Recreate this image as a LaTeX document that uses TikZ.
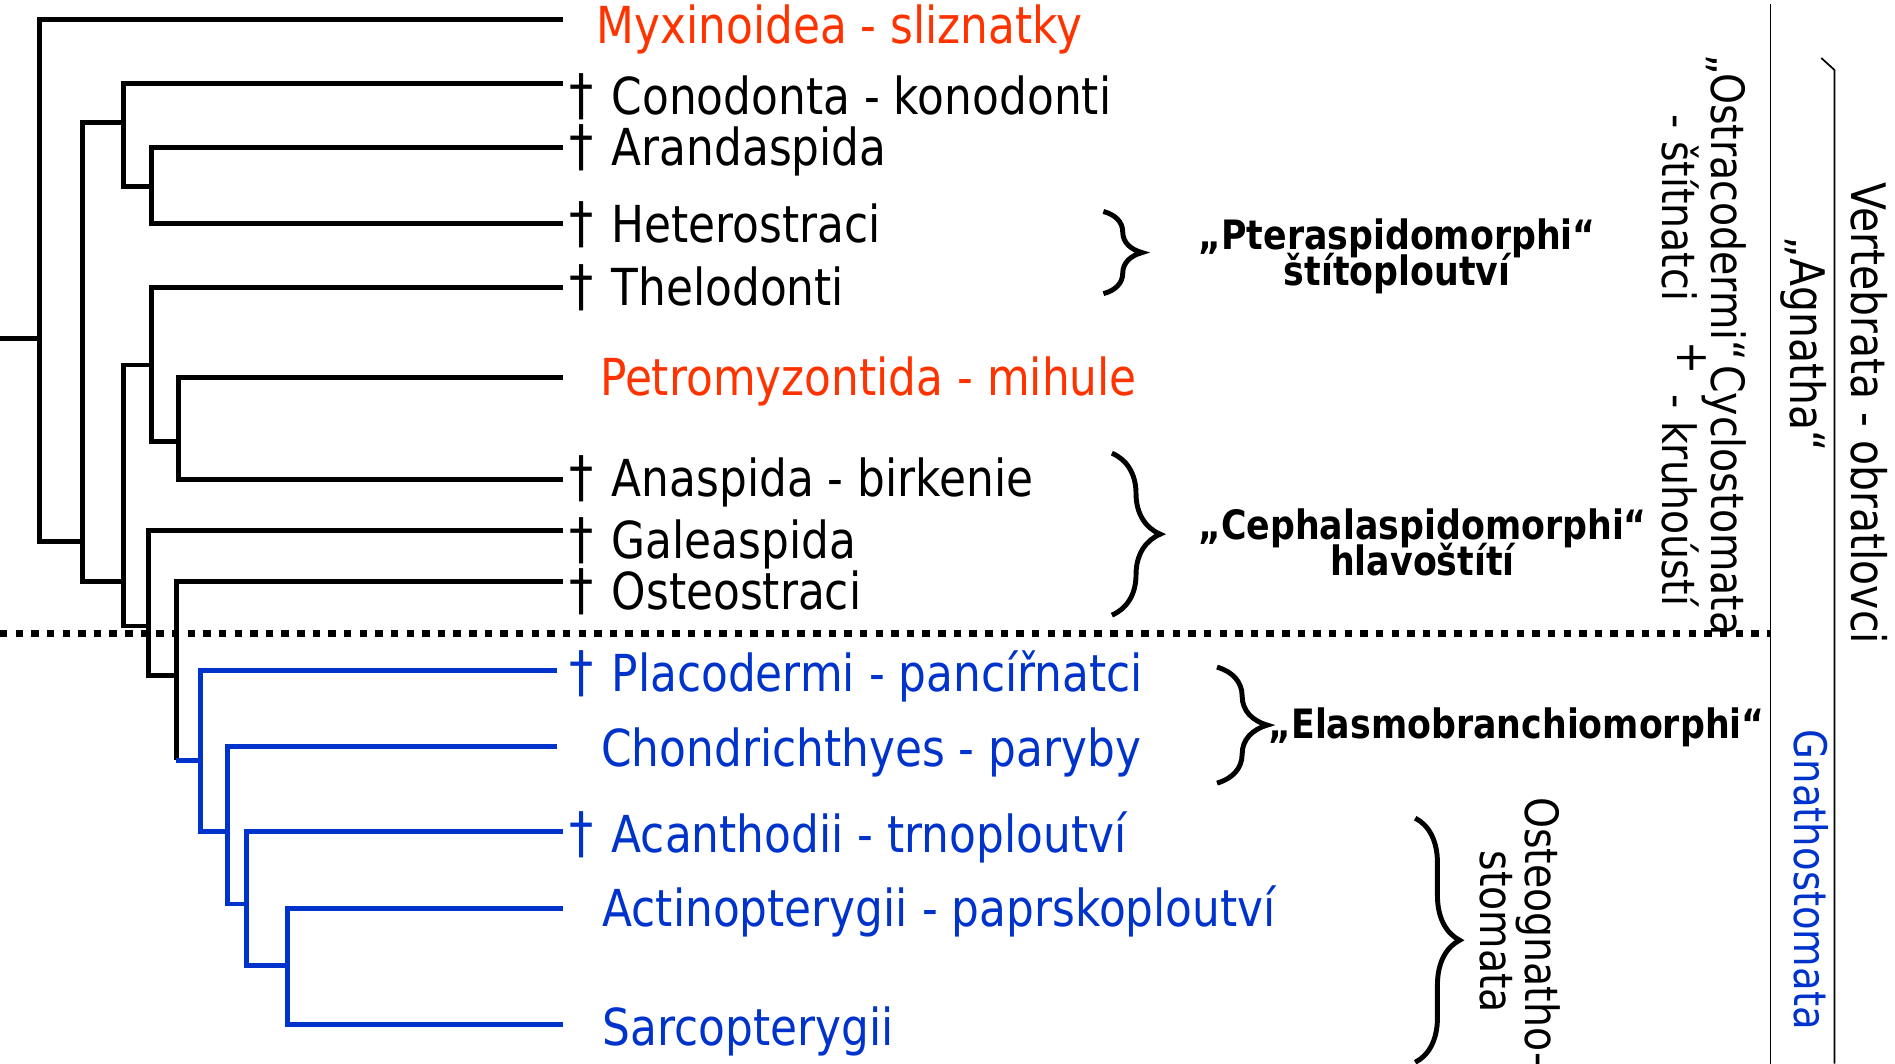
\documentclass[tikz,border=0pt]{standalone}
\usepackage{fontspec}
\setmainfont{DejaVu Sans}[FakeStretch=0.86]
\usetikzlibrary{decorations.pathreplacing}

\definecolor{hagred}{RGB}{255,51,0}
\definecolor{jawblue}{RGB}{0,51,204}
\newcommand{\extinct}{\smash{\fontsize{16.5}{17}\selectfont †}\hspace{5.2pt}}
\newcommand{\tightlines}{\lineskiplimit=-100pt\relax}

\tikzset{
  branch/.style={line width=1.45pt},
  taxon/.style={anchor=base west, inner sep=0pt, font=\fontsize{15}{18}\selectfont},
  grouplabel/.style={align=center, inner sep=0pt,
    font=\bfseries\fontsize{11.9}{10.7}\selectfont\tightlines},
  sidelabel/.style={rotate=-90, align=center, inner sep=0pt,
    font=\fontsize{13.5}{14.6}\selectfont\tightlines},
  clade brace/.style={decorate, decoration={brace, amplitude=#1}, line width=1.45pt},
  clade brace/.default=0.4cm,
}

\begin{document}
\begin{tikzpicture}[x=0.0125cm, y=-0.0125cm]
  \useasboundingbox (0,0) rectangle (1568,880);

  % branching points
  \coordinate (stem) at (0,280);
  \coordinate (nR) at (33,280);
  \coordinate (nA) at (68,448);
  \coordinate (nB) at (102,101);
  \coordinate (nC) at (125,154);
  \coordinate (nD) at (102,481);
  \coordinate (nE) at (125,302);
  \coordinate (nF) at (148,365);
  \coordinate (nG) at (123,518);
  \coordinate (nH) at (146,559);
  \coordinate (nI) at (166,629);
  \coordinate (nJ) at (188,688);
  \coordinate (nK) at (204,748);
  \coordinate (nL) at (238,799);

  % branch tips
  \foreach \n/\x/\y in {Myx/466/16, Cono/466/69, Aran/466/122, Het/466/185,
      Thel/466/238, Petr/466/312, Anas/466/397, Gale/466/439, Oste/466/481,
      Plac/461/555, Chon/461/618, Acan/466/688, Acti/466/752, Sarc/466/848}
    \coordinate (t\n) at (\x,\y);

  % tree
  \draw[branch] (stem) -- (nR);
  \foreach \a/\p/\b in {tMyx/nR/nA, nB/nA/nD, tCono/nB/nC, tAran/nC/tHet,
      nE/nD/nG, tThel/nE/nF, tPetr/nF/tAnas, tGale/nG/nH}
    \draw[branch] (\a) -| (\p) |- (\b);
  \draw[branch] (tOste) -| (nH) -- (nH |- nI);
  \draw[branch, jawblue] (nH |- nI) -- (nI);
  \foreach \a/\p/\b in {tPlac/nI/nJ, tChon/nJ/nK, tAcan/nK/nL, tActi/nL/tSarc}
    \draw[branch, jawblue] (\a) -| (\p) |- (\b);

  % jawless / jawed boundary
  \draw[line width=1.95pt, dash pattern=on 2.2pt off 2.4pt] (0,524) -- (1465,524);

  % taxa
  \node[taxon, text=hagred] (lMyx) at (493,36) {Myxinoidea - sliznatky};
  \foreach \n/\y/\lab in {Cono/95/Conodonta - konodonti, Aran/137/Arandaspida,
      Het/201/Heterostraci, Thel/253/Thelodonti, Anas/411/Anaspida - birkenie,
      Gale/462/Galeaspida, Oste/504/Osteostraci}
    \node[taxon] (l\n) at (471,\y) {\extinct\lab};
  \node[taxon, text=hagred] (lPetr) at (496,327) {Petromyzontida - mihule};
  \node[taxon, text=jawblue] (lPlac) at (471,572) {\extinct Placodermi - pancířnatci};
  \node[taxon, text=jawblue] (lChon) at (497,634) {Chondrichthyes - paryby};
  \node[taxon, text=jawblue] (lAcan) at (471,705) {\extinct Acanthodii - trnoploutví};
  \node[taxon, text=jawblue] (lActi) at (498,767) {Actinopterygii - paprskoploutví};
  \node[taxon, text=jawblue] (lSarc) at (498,865) {Sarcopterygii};

  % groups
  \draw[clade brace=0.4cm] (913,175) -- (913,243);
  \node[grouplabel] (pter) at (1156,212) {„Pteraspidomorphi“\\štítoploutví};
  \draw[clade brace=0.5cm] (920,375) -- (920,509);
  \node[grouplabel] (ceph) at (1177,449) {„Cephalaspidomorphi“\\hlavoštítí};
  \draw[clade brace=0.52cm] (1007,552) -- (1007,648);
  \node[grouplabel, anchor=base west] (elas) at (1049,611) {„Elasmobranchiomorphi“};
  \draw[clade brace=0.46cm] (1171,677) -- (1171,879);
  \node[sidelabel, font=\fontsize{13.5}{13.1}\selectfont\tightlines]
    (ostg) at (1258,771) {Osteognatho-\\stomata};

  % ranks
  \draw[line width=0.5pt] (1465,3) -- (1465,880);
  \draw[line width=0.5pt] (1507,48) -- (1518,58) -- (1518,880);
  \node[sidelabel] (ostr) at (1410,172) {„Ostracodermi“\\- štítnatci};
  \node[sidelabel] (plus) at (1400,296) {+};
  \node[sidelabel] (cycl) at (1410,414) {Cyclostomata\\- kruhoústí};
  \node[sidelabel, font=\fontsize{14}{16}\selectfont] (agna) at (1492,285) {„Agnatha“};
  \node[sidelabel, font=\fontsize{13.2}{14}\selectfont, text=jawblue] (gnat) at (1499,728) {Gnathostomata};
  \node[sidelabel, font=\fontsize{14}{16}\selectfont] (vert) at (1547,342) {Vertebrata - obratlovci};
\end{tikzpicture}
\end{document}
